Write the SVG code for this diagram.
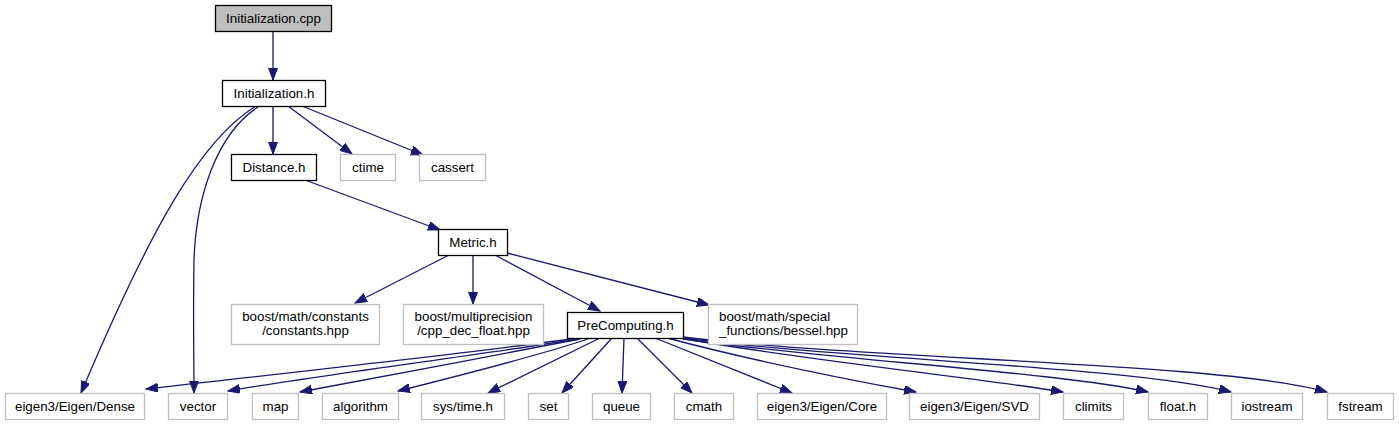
<svg xmlns="http://www.w3.org/2000/svg" width="1399" height="425" viewBox="0 0 1399 425">
<style>
  .n rect { fill: #ffffff; stroke: #000000; stroke-width: 1.3; }
  .n.ext rect { stroke: #bfbfbf; }
  .n.cur rect { fill: #bfbfbf; }
  text { font-family: "Liberation Sans", Arial, sans-serif; font-size: 13.33px; fill: #000000; text-anchor: middle; }
  .e path { fill: none; stroke: #191970; stroke-width: 1.3; marker-end: url(#ah); }
</style>
<defs>
  <marker id="ah" markerUnits="userSpaceOnUse" markerWidth="14" markerHeight="11" refX="12" refY="4.5" orient="auto">
    <path d="M0,0 L12,4.5 L0,9 z" fill="#191970" stroke="#191970" stroke-width="1"/>
  </marker>
</defs>
<rect width="1399" height="425" fill="#ffffff"/>

<g id="edges" class="e">
  <path d="M273,31 L273,80"/>
  <path d="M273,106 L273,154"/>
  <path d="M288,106 L352,154"/>
  <path d="M302,106 L423,155"/>
  <path d="M256,106 C200,140 150,230 81,393"/>
  <path d="M258,107 C215,135 196,200 194,260 C193,320 194,360 194,393"/>
  <path d="M305,180 L440,230"/>
  <path d="M449,255 L355,303"/>
  <path d="M473,255 L473,304"/>
  <path d="M495,255 L600,311"/>
  <path d="M507,253 L709,305"/>
  <path d="M577,338 C480,352 260,376 146,389"/>
  <path d="M578,339 C500,352 300,378 228,391"/>
  <path d="M580,339 C500,355 360,380 300,392"/>
  <path d="M588,339 C540,355 450,378 398,391"/>
  <path d="M600,338 L488,393"/>
  <path d="M612,338 L562,393"/>
  <path d="M624,338 L622,393"/>
  <path d="M637,338 L692,393"/>
  <path d="M655,338 L792,393"/>
  <path d="M667,338 C750,360 850,380 916,392"/>
  <path d="M680,338 C800,360 980,378 1063,392"/>
  <path d="M683,339 C830,360 1060,372 1148,392"/>
  <path d="M683,338 C850,360 1130,366 1231,392"/>
  <path d="M683,337 C870,360 1220,362 1327,392"/>
</g>

<g id="n_init_cpp" class="n cur"><rect x="215.5" y="5.5" width="116" height="26"/><text x="273.5" y="23">Initialization.cpp</text></g>
<g id="n_init_h" class="n"><rect x="222.5" y="80.5" width="103" height="26"/><text x="274" y="98">Initialization.h</text></g>
<g id="n_distance" class="n"><rect x="231.5" y="154.5" width="85" height="26"/><text x="274" y="172">Distance.h</text></g>
<g id="n_ctime" class="n ext"><rect x="340.5" y="154.5" width="55" height="26"/><text x="368" y="172">ctime</text></g>
<g id="n_cassert" class="n ext"><rect x="419.5" y="154.5" width="66" height="26"/><text x="452.5" y="172">cassert</text></g>
<g id="n_metric" class="n"><rect x="438.5" y="229.5" width="69" height="26"/><text x="473" y="247">Metric.h</text></g>
<g id="n_constants" class="n ext"><rect x="231.5" y="304.5" width="148" height="40"/><text x="305.5" y="321">boost/math/constants</text><text x="305.5" y="335">/constants.hpp</text></g>
<g id="n_multiprec" class="n ext"><rect x="403.5" y="304.5" width="140" height="40"/><text x="473.5" y="321">boost/multiprecision</text><text x="473.5" y="335">/cpp_dec_float.hpp</text></g>
<g id="n_precomp" class="n"><rect x="567.5" y="312.5" width="116" height="26"/><text x="625.5" y="330">PreComputing.h</text></g>
<g id="n_bessel" class="n ext"><rect x="708.5" y="304.5" width="149" height="40"/><text x="719" y="321" style="text-anchor:start">boost/math/special</text><text x="719" y="335" style="text-anchor:start">_functions/bessel.hpp</text></g>

<g id="n_dense" class="n ext"><rect x="5.5" y="393.5" width="139" height="26"/><text x="75" y="411">eigen3/Eigen/Dense</text></g>
<g id="n_vector" class="n ext"><rect x="168.5" y="393.5" width="59" height="26"/><text x="198" y="411">vector</text></g>
<g id="n_map" class="n ext"><rect x="252.5" y="393.5" width="46" height="26"/><text x="275.5" y="411">map</text></g>
<g id="n_algorithm" class="n ext"><rect x="322.5" y="393.5" width="76" height="26"/><text x="360.5" y="411">algorithm</text></g>
<g id="n_systime" class="n ext"><rect x="421.5" y="393.5" width="83" height="26"/><text x="463" y="411">sys/time.h</text></g>
<g id="n_set" class="n ext"><rect x="528.5" y="393.5" width="40" height="26"/><text x="548.5" y="411">set</text></g>
<g id="n_queue" class="n ext"><rect x="592.5" y="393.5" width="58" height="26"/><text x="621.5" y="411">queue</text></g>
<g id="n_cmath" class="n ext"><rect x="674.5" y="393.5" width="59" height="26"/><text x="704" y="411">cmath</text></g>
<g id="n_core" class="n ext"><rect x="757.5" y="393.5" width="129" height="26"/><text x="822" y="411">eigen3/Eigen/Core</text></g>
<g id="n_svd" class="n ext"><rect x="909.5" y="393.5" width="130" height="26"/><text x="974.5" y="411">eigen3/Eigen/SVD</text></g>
<g id="n_climits" class="n ext"><rect x="1063.5" y="393.5" width="60" height="26"/><text x="1093.5" y="411">climits</text></g>
<g id="n_float" class="n ext"><rect x="1148.5" y="393.5" width="59" height="26"/><text x="1178" y="411">float.h</text></g>
<g id="n_iostream" class="n ext"><rect x="1231.5" y="393.5" width="71" height="26"/><text x="1267" y="411">iostream</text></g>
<g id="n_fstream" class="n ext"><rect x="1327.5" y="393.5" width="66" height="26"/><text x="1360.5" y="411">fstream</text></g>
</svg>
